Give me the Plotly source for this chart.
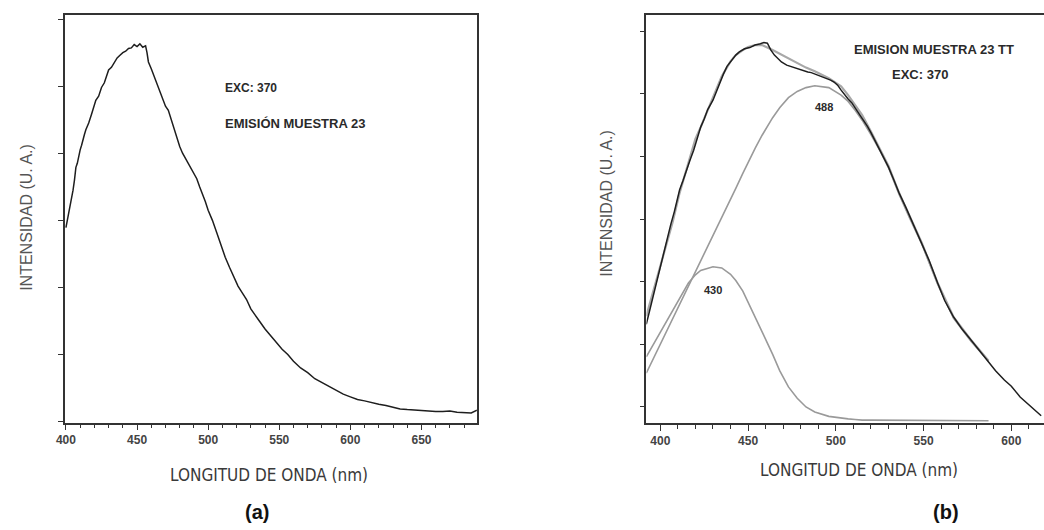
import plotly.graph_objects as go

# ---------------- data (a) ----------------
wl_a = [400, 401, 402, 403, 404, 405, 406, 407, 408, 409, 410, 411, 412, 413, 414, 416, 418, 420, 421, 423,
        425, 427, 429, 430, 432, 434, 436, 438, 440, 442, 444, 446, 448, 450, 452, 454, 456, 457, 458, 460,
        462, 464, 466, 468, 470, 472, 474, 476, 478, 480, 482, 484, 486, 488, 490, 492, 494, 496, 498, 500,
        503, 506, 509, 512, 515, 518, 521, 524, 527, 530, 533, 536, 540, 544, 548, 552, 556, 560, 565, 570,
        575, 580, 585, 590, 595, 600, 605, 610, 615, 620, 625, 630, 635, 640, 645, 650, 655, 660, 665, 670,
        675, 680, 685, 689]
int_a = [2.89, 3.00, 3.12, 3.22, 3.30, 3.45, 3.60, 3.79, 3.85, 3.98, 4.05, 4.12, 4.22, 4.28, 4.35, 4.45, 4.58, 4.72, 4.79, 4.85,
         4.98, 5.05, 5.18, 5.24, 5.28, 5.36, 5.42, 5.46, 5.50, 5.52, 5.56, 5.57, 5.62, 5.59, 5.63, 5.58, 5.60, 5.50, 5.36, 5.26,
         5.15, 5.02, 4.92, 4.82, 4.70, 4.64, 4.50, 4.38, 4.22, 4.10, 4.00, 3.92, 3.85, 3.76, 3.68, 3.62, 3.50, 3.40, 3.28, 3.15,
         3.00, 2.82, 2.62, 2.45, 2.30, 2.16, 2.02, 1.92, 1.82, 1.68, 1.58, 1.50, 1.38, 1.28, 1.17, 1.08, 1.00, 0.90, 0.80, 0.73,
         0.64, 0.58, 0.52, 0.46, 0.41, 0.37, 0.33, 0.31, 0.28, 0.26, 0.24, 0.21, 0.19, 0.18, 0.17, 0.17, 0.16, 0.15, 0.15, 0.16,
         0.14, 0.14, 0.13, 0.17]

# ---------------- data (b) ----------------
wl_b = [392, 394, 396, 398, 400, 402, 404, 406, 408, 410, 411, 413, 415, 417, 419, 421, 423, 425, 427, 430,
        432, 434, 436, 438, 440, 443, 445, 448, 451, 454, 457, 459, 461, 463, 465, 467, 469, 472, 475, 478,
        481, 484, 486, 489, 492, 494, 497, 499, 501, 503, 505, 507, 509, 511, 513, 516, 518, 520, 523, 526,
        530, 533, 536, 540, 544, 549, 553, 558, 562, 567, 572, 577, 581, 586, 591, 596, 600, 605, 610, 614, 617]
int_b = [1.32, 1.55, 1.80, 2.02, 2.27, 2.48, 2.72, 2.92, 3.12, 3.36, 3.47, 3.62, 3.80, 3.95, 4.10, 4.30, 4.47, 4.60, 4.75, 4.90,
         5.05, 5.20, 5.32, 5.44, 5.52, 5.62, 5.67, 5.72, 5.74, 5.78, 5.80, 5.82, 5.81, 5.70, 5.62, 5.56, 5.51, 5.46, 5.43, 5.40,
         5.38, 5.35, 5.34, 5.31, 5.28, 5.25, 5.22, 5.19, 5.14, 5.06, 4.98, 4.92, 4.86, 4.78, 4.70, 4.58, 4.48, 4.38, 4.22, 4.05,
         3.83, 3.63, 3.42, 3.18, 2.92, 2.62, 2.35, 1.98, 1.70, 1.44, 1.24, 1.07, 0.93, 0.75, 0.58, 0.43, 0.33, 0.16, 0.04, -0.07, -0.14]

wl_fit = [392, 400, 407, 411, 416, 420, 423, 430, 435, 440, 443, 447, 450, 454, 458, 464, 468, 473, 478, 483,
          488, 496, 503, 507, 511, 515, 520, 525, 530, 536, 542, 549, 558, 567, 577, 587]
fit_sum = [1.45, 2.25, 2.95, 3.42, 3.90, 4.28, 4.47, 4.95, 5.28, 5.52, 5.62, 5.70, 5.75, 5.78, 5.78, 5.70, 5.64, 5.56, 5.49, 5.42,
           5.36, 5.25, 5.12, 4.98, 4.82, 4.66, 4.40, 4.12, 3.85, 3.42, 3.05, 2.62, 1.98, 1.44, 1.07, 0.74]
comp_430 = [0.80, 1.20, 1.55, 1.75, 1.98, 2.11, 2.18, 2.24, 2.22, 2.12, 2.02, 1.85, 1.68, 1.44, 1.20, 0.84, 0.58, 0.32, 0.14, 0.00,
            -0.08, -0.15, -0.18, -0.19, -0.20, -0.21, -0.21, -0.21, -0.21, -0.21, -0.22, -0.22, -0.22, -0.22, -0.22, -0.22]
comp_488 = [0.54, 1.00, 1.41, 1.64, 1.93, 2.16, 2.34, 2.74, 3.03, 3.31, 3.49, 3.73, 3.91, 4.13, 4.34, 4.62, 4.78, 4.94, 5.04, 5.10,
            5.13, 5.10, 4.98, 4.88, 4.74, 4.58, 4.35, 4.10, 3.82, 3.40, 3.02, 2.60, 1.96, 1.42, 1.05, 0.73]

x_ticks = [400, 450, 500, 550, 600, 650]
y_ticks_a = [0, 1, 2, 3, 4, 5, 6]
y_ticks_b = [0, 1, 2, 3, 4, 5, 6]

W, H = 1044, 530
def px(x):
    return x / W
def py(y):
    return 1 - y / H

fig = go.Figure()
fig.add_trace(go.Scatter(x=wl_a, y=int_a, mode="lines", line=dict(color="#1e1e1e", width=1.5),
                         xaxis="x", yaxis="y", showlegend=False))
fig.add_trace(go.Scatter(x=wl_fit, y=comp_430, mode="lines", line=dict(color="#9a9a9a", width=1.6),
                         xaxis="x2", yaxis="y2", showlegend=False))
fig.add_trace(go.Scatter(x=wl_fit, y=comp_488, mode="lines", line=dict(color="#9a9a9a", width=1.6),
                         xaxis="x2", yaxis="y2", showlegend=False))
fig.add_trace(go.Scatter(x=wl_fit, y=fit_sum, mode="lines", line=dict(color="#a8a8a8", width=2.2),
                         xaxis="x2", yaxis="y2", showlegend=False))
fig.add_trace(go.Scatter(x=wl_b, y=int_b, mode="lines", line=dict(color="#1e1e1e", width=1.5),
                         xaxis="x2", yaxis="y2", showlegend=False))

COND = "DejaVu Sans Condensed, Liberation Sans Narrow, Arial Narrow, sans-serif"
tickfont = dict(family="Liberation Sans, Arial, sans-serif", size=12, color="#444", weight="bold")
axcol = "#333"

fig.update_layout(
    width=W, height=H, margin=dict(l=0, r=0, t=0, b=0),
    paper_bgcolor="white", plot_bgcolor="white",
    xaxis=dict(domain=[px(56), px(472)], range=[399, 689], tickvals=x_ticks, ticks="outside", ticklen=5,
               tickcolor=axcol, tickwidth=1.2, showline=True, linecolor=axcol, linewidth=1.5, mirror=True,
               showgrid=False, zeroline=False, tickfont=tickfont, anchor="y",
               minor=dict(dtick=10, tick0=400, ticks="outside", ticklen=3, tickcolor=axcol, showgrid=False)),
    yaxis=dict(domain=[py(423), py(15)], range=[-0.02, 6.06], tickvals=y_ticks_a, ticks="outside", ticklen=5,
               tickcolor=axcol, showticklabels=False, showline=True, linecolor=axcol, linewidth=1.5, mirror=True,
               showgrid=False, zeroline=False, anchor="x"),
    xaxis2=dict(domain=[px(643), 1.0], range=[392.1, 618.6], tickvals=x_ticks, ticks="outside", ticklen=6,
                tickcolor=axcol, tickwidth=1.2, showline=True, linecolor=axcol, linewidth=1.5, mirror=True,
                showgrid=False, zeroline=False, tickfont=tickfont, anchor="y2",
                minor=dict(dtick=10, tick0=400, ticks="outside", ticklen=4, tickcolor=axcol, showgrid=False)),
    yaxis2=dict(domain=[py(423), py(15)], range=[-0.256, 6.26], tickvals=y_ticks_b, ticks="outside", ticklen=5,
                tickcolor=axcol, showticklabels=False, showline=True, linecolor=axcol, linewidth=1.5, mirror=False,
                showgrid=False, zeroline=False, anchor="x2"),
)

textfont = dict(family="Liberation Sans, Arial, sans-serif", size=13, color="#2a2a2a")
titlefont_x = dict(family=COND, size=17, color="#3a3a3a")
titlefont_y = dict(family="Liberation Sans, Arial, sans-serif", size=16, color="#555")

ann = [
    dict(x=px(216), y=py(88), text="<b>EXC: 370</b>", xanchor="left", font=dict(textfont, size=12)),
    dict(x=px(216), y=py(123), text="<b>EMISIÓN MUESTRA 23</b>", xanchor="left", font=dict(textfont, size=13)),
    dict(x=px(933), y=py(50), text="<b>EMISION MUESTRA 23 TT</b>", xanchor="center", font=dict(textfont, size=13)),
    dict(x=px(919), y=py(75), text="<b>EXC: 370</b>", xanchor="center", font=dict(textfont, size=13)),
    dict(x=px(822), y=py(107), text="<b>488</b>", xanchor="center", font=dict(textfont, size=11)),
    dict(x=px(710), y=py(290), text="<b>430</b>", xanchor="center", font=dict(textfont, size=11)),
    dict(x=px(262), y=py(475), text="LONGITUD DE ONDA (nm)", xanchor="center", font=titlefont_x),
    dict(x=px(857), y=py(470), text="LONGITUD DE ONDA (nm)", xanchor="center", font=titlefont_x),
    dict(x=px(17), y=py(217), text="INTENSIDAD (U. A.)", textangle=-90, xanchor="center", yanchor="middle", font=titlefont_y),
    dict(x=px(602), y=py(203), text="INTENSIDAD (U. A.)", textangle=-90, xanchor="center", yanchor="middle", font=titlefont_y),
    dict(x=px(250), y=py(512), text="<b>(a)</b>", xanchor="center", font=dict(family="Liberation Sans, Arial, sans-serif", size=20, color="#111")),
    dict(x=px(945), y=py(512), text="<b>(b)</b>", xanchor="center", font=dict(family="Liberation Sans, Arial, sans-serif", size=20, color="#111")),
]
for a in ann:
    a.update(xref="paper", yref="paper", showarrow=False)
    a.setdefault("yanchor", "middle")
fig.update_layout(annotations=ann)

fig.write_html("out.html")
